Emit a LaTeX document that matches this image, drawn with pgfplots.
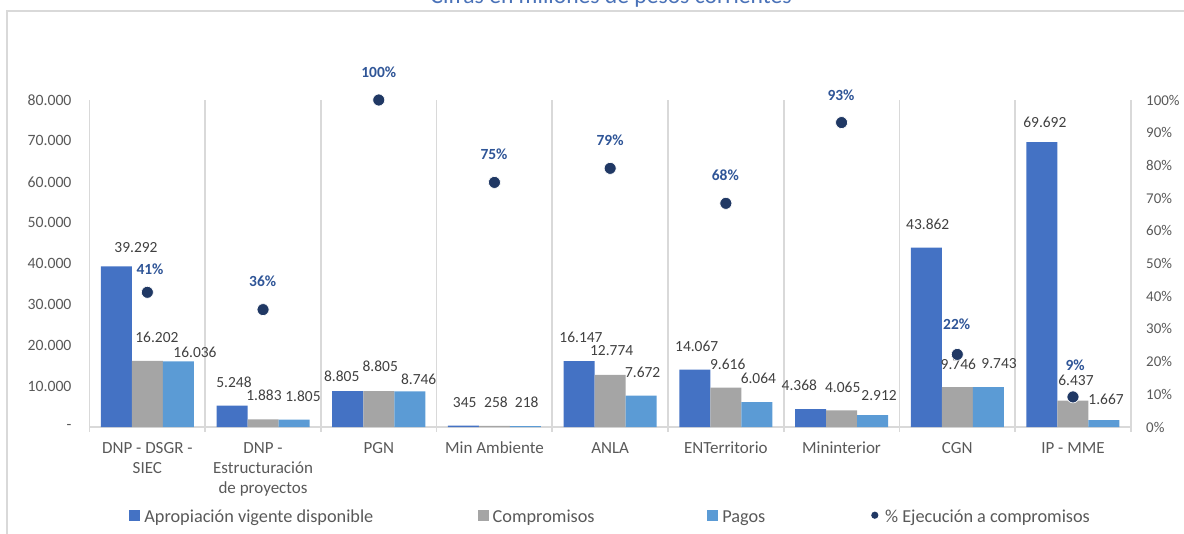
\documentclass[border=0pt]{standalone}
\usepackage{fontspec}
\setmainfont{Carlito}
\usepackage{pgfplots}
\usepackage{pgfplotstable}
\pgfplotsset{compat=1.18}
\definecolor{apro}{HTML}{4472C4}
\definecolor{comp}{HTML}{A5A5A5}
\definecolor{pago}{HTML}{5B9BD5}
\definecolor{ejec}{HTML}{203864}
\definecolor{pctlab}{HTML}{2F5597}
\definecolor{gridc}{HTML}{D9D9D9}
\definecolor{txt}{HTML}{595959}
\definecolor{lab}{HTML}{404040}
\definecolor{titc}{HTML}{4A72B8}

% value labels: where Excel left them (x in categories, y in data units)
\pgfplotstableread{
x      y      lab
0.902  43792  39.292
1.083  22019  16.202
1.412  18349  16.036
1.749  11009  5.248
2.008  7829   1.883
2.345  7584   1.805
2.680  12477  8.805
3.013  14752  8.805
3.345  11670  8.746
3.743  6043   345
4.013  6043   258
4.279  6043   218
4.748  21847  16.147
5.013  18593  12.774
5.281  13456  7.672
5.748  19817  14.067
6.016  15413  9.616
6.281  11914  6.064
6.635  10275  4.368
7.010  9713   4.065
7.324  7584   2.912
7.745  49493  43.862
8.009  15413  9.746
8.361  15413  9.743
8.757  74643  69.692
9.026  11474  6.437
9.286  6875   1.667
}\vallabels

\pgfplotstableread{
x      y      lab
1.023  48.3   41\%
1.997  44.7   36\%
3.000  108.5  100\%
3.996  83.3   75\%
4.999  87.7   79\%
5.995  77.1   68\%
6.995  101.6  93\%
7.995  31.4   22\%
9.018  19.0   9\%
}\pctlabels

\begin{document}
\begin{tikzpicture}
\useasboundingbox (0,0) rectangle (888pt,399.75pt);
\begin{scope}[x=0.75pt,y=0.75pt]
  % frame and clipped title
  \draw[gridc, line width=1.1pt] (7,-5) -- (7,522) -- (1195,522);
  \node[overlay, anchor=base, inner sep=0, text=titc,
        font=\fontsize{17.7}{21}\selectfont] at (611,529)
        {Cifras en millones de pesos corrientes};
  % legend
  \fill[apro] (129.2,12.5) rectangle (139.8,23.1);
  \fill[comp] (478.1,12.5) rectangle (488.7,23.1);
  \fill[pago] (707.0,12.5) rectangle (717.6,23.1);
  \fill[ejec] (874.8,17.8) circle (3.6);
  \begin{scope}[every node/.style={anchor=base west, inner sep=0, text=txt,
                font=\fontsize{13.7}{16}\selectfont}]
    \node at (144.1,11) {Apropiación vigente disponible};
    \node at (492.4,11) {Compromisos};
    \node at (722.0,11) {Pagos};
    \node at (884.8,11) {\% Ejecución a compromisos};
  \end{scope}
\end{scope}

\begin{axis}[
  at={(67.125pt,79.5pt)}, anchor=south west,
  scale only axis, width=781pt, height=245.25pt,
  xmin=0.5, xmax=9.5, ymin=0, ymax=80000,
  clip=false,
  axis line style={draw=none},
  xtick={1,...,9},
  xticklabels={{DNP - DSGR -\\SIEC},{DNP -\\Estructuración\\de proyectos},
    PGN,Min Ambiente,ANLA,ENTerritorio,Mininterior,CGN,IP - MME},
  xtick style={draw=none},
  xticklabel style={align=center, anchor=north, yshift=-7.8pt, text=txt,
    font=\fontsize{12.75}{15}\selectfont},
  ytick={0,10000,...,80000},
  yticklabels={-,10.000,20.000,30.000,40.000,50.000,60.000,70.000,80.000},
  scaled y ticks=false,
  ytick style={draw=none},
  yticklabel style={xshift=-10pt, text=txt, font=\fontsize{11.8}{14}\selectfont},
]
\pgfplotsinvokeforeach{0.5,1.5,2.5,3.5,4.5,5.5,6.5,7.5,8.5,9.5}{
  \draw[gridc, line width=1.3pt] (axis cs:#1,80000) -- ([yshift=-3.75pt]axis cs:#1,0);
}
\draw[gridc, line width=1.3pt] (axis cs:0.5,0) -- (axis cs:9.5,0);

\addplot[ybar, bar width=0.268, bar shift=-0.268, fill=apro, draw=none]
  coordinates {(1,39292)(2,5248)(3,8805)(4,345)(5,16147)(6,14067)(7,4368)(8,43862)(9,69692)};
\addplot[ybar, bar width=0.268, bar shift=0, fill=comp, draw=none]
  coordinates {(1,16202)(2,1883)(3,8805)(4,258)(5,12774)(6,9616)(7,4065)(8,9746)(9,6437)};
\addplot[ybar, bar width=0.268, bar shift=0.268, fill=pago, draw=none]
  coordinates {(1,16036)(2,1805)(3,8746)(4,218)(5,7672)(6,6064)(7,2912)(8,9743)(9,1667)};

\addplot[draw=none, mark=none, nodes near coords, point meta=explicit symbolic,
  nodes near coords style={anchor=center, inner sep=0, text=lab,
    font=\fontsize{11.6}{14}\selectfont}]
  table[x=x, y=y, meta=lab] {\vallabels};
\end{axis}

\begin{axis}[
  at={(67.125pt,79.5pt)}, anchor=south west,
  scale only axis, width=781pt, height=245.25pt,
  xmin=0.5, xmax=9.5, ymin=0, ymax=100,
  clip=false,
  axis x line=none, axis y line*=right,
  axis line style={draw=none},
  ytick={0,10,...,100},
  yticklabels={0\%,10\%,20\%,30\%,40\%,50\%,60\%,70\%,80\%,90\%,100\%},
  ytick style={draw=none},
  yticklabel style={xshift=8pt, text=txt, font=\fontsize{11.2}{14}\selectfont},
]
\addplot[only marks, mark=*, mark size=4.5pt,
  mark options={fill=ejec, draw=white, line width=0.5pt}]
  coordinates {(1,41.2)(2,35.9)(3,100)(4,74.8)(5,79.1)(6,68.4)(7,93.1)(8,22.2)(9,9.2)};
\addplot[draw=none, mark=none, nodes near coords, point meta=explicit symbolic,
  nodes near coords style={anchor=center, inner sep=0, text=pctlab,
    font=\bfseries\fontsize{11.6}{14}\selectfont}]
  table[x=x, y=y, meta=lab] {\pctlabels};
\end{axis}
\end{tikzpicture}
\end{document}
